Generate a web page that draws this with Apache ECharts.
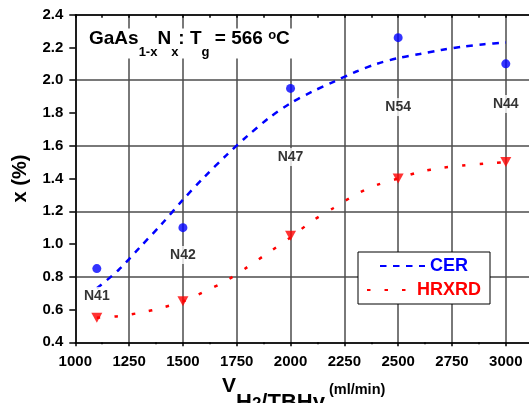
<!DOCTYPE html>
<html><head><meta charset="utf-8">
<script src="https://cdn.jsdelivr.net/npm/echarts@6/dist/echarts.min.js"></script>
<style>html,body{margin:0;padding:0;background:#fff}#c{width:529px;height:403px}</style>
</head><body><div id="c"></div>
<script>
// ---- data ----
const flowRates = [1100, 1500, 2000, 2500, 3000];
const cerValues = [0.85, 1.10, 1.95, 2.26, 2.10];
const hrxrdValues = [0.55, 0.65, 1.05, 1.40, 1.50];
const sampleNames = ['N41', 'N42', 'N47', 'N54', 'N44'];
const sampleLabelY = [0.683, 0.933, 1.531, 1.836, 1.855];
const fitX = [1100, 1200, 1300, 1400, 1500, 1600, 1700, 1800, 1900, 2000, 2100, 2200, 2300, 2400, 2500, 2600, 2700, 2800, 2900, 3000];
const cerFit = [0.73, 0.84, 0.98, 1.12, 1.27, 1.41, 1.54, 1.66, 1.77, 1.86, 1.93, 1.99, 2.05, 2.10, 2.135, 2.16, 2.185, 2.205, 2.22, 2.23];
const hrxrdFit = [0.55, 0.56, 0.58, 0.61, 0.65, 0.71, 0.775, 0.86, 0.95, 1.04, 1.14, 1.22, 1.30, 1.36, 1.40, 1.44, 1.465, 1.48, 1.49, 1.50];
const xTicks = [1000, 1250, 1500, 1750, 2000, 2250, 2500, 2750, 3000];
const yTicks = [0.4, 0.6, 0.8, 1.0, 1.2, 1.4, 1.6, 1.8, 2.0, 2.2, 2.4];

// ---- chart ----
const FF = '"Liberation Sans", Arial, sans-serif';
const chart = echarts.init(document.getElementById('c'), null, {renderer: 'canvas'});
const xMin = xTicks[0], xInt = xTicks[1] - xTicks[0];
const yMin = yTicks[0], yMax = yTicks[yTicks.length - 1], yInt = +(yTicks[1] - yTicks[0]).toFixed(2);
const pair = (xs, ys) => xs.map((x, i) => [x, ys[i]]);

const option = {
  backgroundColor: '#fff',
  animation: false,
  textStyle: {fontFamily: FF},
  grid: {left: 75.3, top: 14.7, right: -3.7, bottom: 60.7, outerBoundsMode: 'none', containLabel: false},
  title: {
    left: 86, top: 18.5, padding: [0, 3], backgroundColor: '#fff', z: 20,
    text: '{a|GaAs}{s|1-x}{a|N}{s|x}{a|: T}{s|g}{a| = 566 }{p|o}{a|C}',
    textStyle: {
      fontFamily: FF,
      rich: {
        a: {fontSize: 19, fontWeight: 'bold', color: '#000', lineHeight: 40, verticalAlign: 'middle', fontFamily: FF},
        s: {fontSize: 13, fontWeight: 'bold', color: '#000', lineHeight: 12, verticalAlign: 'bottom', fontFamily: FF},
        p: {fontSize: 13, fontWeight: 'bold', color: '#000', verticalAlign: 'top', padding: [10, 0, 0, 0], fontFamily: FF}
      }
    }
  },
  legend: [
    {
      data: [{name: 'CER', itemStyle: {opacity: 0}}], orient: 'vertical', left: 379, top: 257, z: 10,
      itemWidth: 45, itemHeight: 14, padding: 0, selectedMode: false,
      textStyle: {fontSize: 18, fontWeight: 'bold', color: '#0000ff', fontFamily: FF}
    },
    {
      data: [{name: 'HRXRD', itemStyle: {opacity: 0}}], orient: 'vertical', left: 366, top: 281, z: 10,
      itemWidth: 45, itemHeight: 14, padding: 0, selectedMode: false,
      textStyle: {fontSize: 18, fontWeight: 'bold', color: '#ff0000', fontFamily: FF}
    }
  ],
  graphic: [
    {type: 'rect', left: 357.5, top: 251.5, z: 2,
     shape: {width: 132, height: 52}, style: {fill: '#fff', stroke: '#000', lineWidth: 1}},
    {type: 'text', left: 222, top: 376, z: 20,
     style: {
       text: '{v|V}{s|H}{t|2}{s|/TBHy}{p| (ml/min)}',
       rich: {
         v: {fontSize: 21, fontWeight: 'bold', fill: '#000', verticalAlign: 'top', padding: [2.5, 0, 0, 0], fontFamily: FF},
         s: {fontSize: 22, fontWeight: 'bold', fill: '#000', verticalAlign: 'top', padding: [18, 0, 0, 0], fontFamily: FF},
         t: {fontSize: 17, fontWeight: 'bold', fill: '#000', verticalAlign: 'top', padding: [22.5, 0, 0, 0], fontFamily: FF},
         p: {fontSize: 14.5, fontWeight: 'bold', fill: '#000', verticalAlign: 'top', padding: [8.5, 0, 0, 0], fontFamily: FF}
       }
     }}
  ],
  xAxis: [
    {
      type: 'value', min: xMin, max: 3125, interval: xInt, position: 'bottom',
      axisLine: {show: true, lineStyle: {color: '#000', width: 1.5}},
      axisTick: {show: true, inside: false, length: 4, lineStyle: {color: '#000', width: 1.5}},
      minorTick: {show: true, splitNumber: 2, length: 2, lineStyle: {color: '#000', width: 1.5}},
      splitLine: {show: true, lineStyle: {color: '#4d4d4d', width: 1.5}},
      axisLabel: {show: true, margin: 12, fontSize: 15, fontWeight: 'bold', color: '#000', fontFamily: FF,
                  showMaxLabel: false, formatter: v => (xTicks.indexOf(v) >= 0 ? String(v) : '')}
    },
    {
      type: 'value', min: xMin, max: 3125, interval: xInt, position: 'top',
      axisLine: {show: true, onZero: false, lineStyle: {color: '#000', width: 1.5}},
      axisTick: {show: true, inside: true, length: 3, lineStyle: {color: '#000', width: 1.5}},
      minorTick: {show: true, splitNumber: 2, length: 3, lineStyle: {color: '#000', width: 1.5}},
      splitLine: {show: false},
      axisLabel: {show: false}
    }
  ],
  yAxis: [
    {
      type: 'value', min: yMin, max: yMax, interval: yInt, position: 'left',
      name: 'x (%)', nameLocation: 'middle', nameGap: 45, nameRotate: 90,
      nameTextStyle: {fontSize: 20, fontWeight: 'bold', color: '#000', fontFamily: FF},
      axisLine: {show: true, onZero: false, lineStyle: {color: '#000', width: 1.5}},
      axisTick: {show: true, inside: false, length: 6, lineStyle: {color: '#000', width: 1.5}},
      splitLine: {show: false},
      axisLabel: {show: true, margin: 12, fontSize: 15, fontWeight: 'bold', color: '#000', fontFamily: FF,
                  formatter: v => v.toFixed(1)}
    },
    {
      type: 'value', min: yMin, max: yMax, interval: yInt * 2, position: 'left',
      axisLine: {show: false}, axisTick: {show: false}, axisLabel: {show: false},
      splitLine: {show: true, lineStyle: {color: '#4d4d4d', width: 1.5}}
    }
  ],
  series: [
    {
      name: 'CER', type: 'line', data: pair(fitX, cerFit), smooth: 0.3, symbol: 'none', z: 3,
      lineStyle: {color: '#0000ff', width: 2.5, type: [6.5, 6.5]}, itemStyle: {color: '#0000ff'}
    },
    {
      name: 'HRXRD', type: 'line', data: pair(fitX, hrxrdFit), smooth: 0.3, symbol: 'none', z: 3,
      lineStyle: {color: '#ff0000', width: 2.5, type: [3.5, 14]}, itemStyle: {color: '#ff0000'}
    },
    {
      name: 'CER data', type: 'scatter', data: pair(flowRates, cerValues), symbol: 'circle', symbolSize: 9, z: 4,
      itemStyle: {color: '#0000ff'}
    },
    {
      name: 'HRXRD data', type: 'scatter', data: pair(flowRates, hrxrdValues), symbol: 'triangle', symbolRotate: 180,
      symbolSize: [11, 10], z: 4, itemStyle: {color: '#ff0000'}
    },
    {
      name: 'labels', type: 'scatter', z: 6, silent: true,
      data: flowRates.map((x, i) => ({value: [x, sampleLabelY[i]], name: sampleNames[i]})),
      symbolSize: 1, itemStyle: {color: 'rgba(0,0,0,0)'},
      label: {show: true, position: 'inside', formatter: p => p.name, fontSize: 14, fontWeight: 'bold', color: '#000',
              fontFamily: FF, backgroundColor: '#fff', padding: [2, 2]}
    }
  ]
};
chart.setOption(option);
</script>
</body></html>
